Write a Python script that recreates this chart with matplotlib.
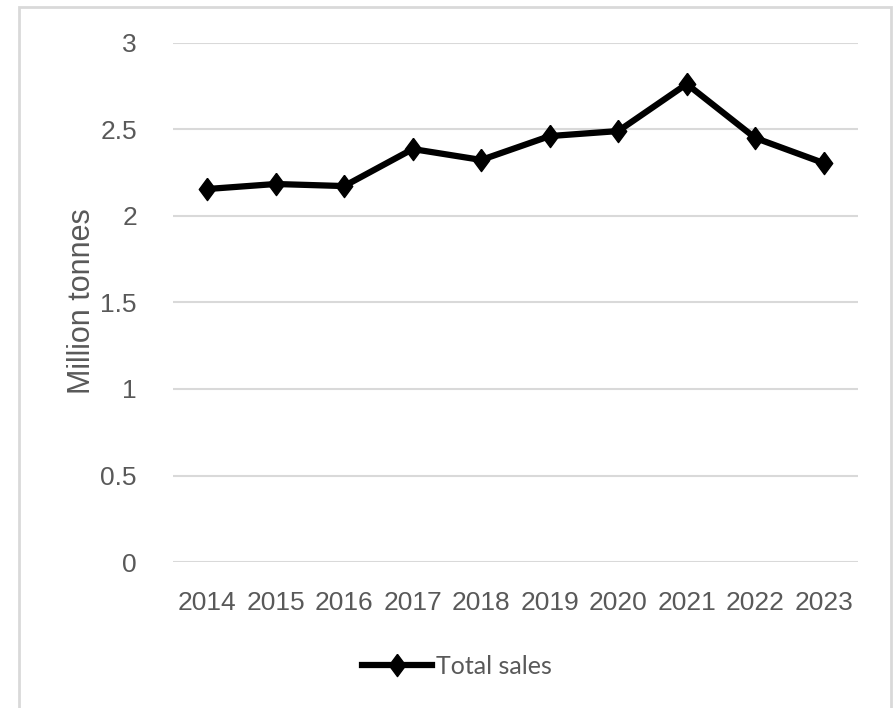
import matplotlib
matplotlib.use("Agg")
import matplotlib.pyplot as plt
from matplotlib.patches import Rectangle

years = ["2014", "2015", "2016", "2017", "2018", "2019", "2020", "2021", "2022", "2023"]
total_sales = [2.156, 2.185, 2.173, 2.387, 2.324, 2.462, 2.491, 2.763, 2.451, 2.306]
y_ticks = [0, 0.5, 1, 1.5, 2, 2.5, 3]
y_tick_labels = ["0", "0.5", "1", "1.5", "2", "2.5", "3"]

GREY_TXT = "#595959"
GRID = "#d9d9d9"

plt.rcParams["font.family"] = ["Liberation Sans", "DejaVu Sans"]

fig = plt.figure(figsize=(8.94, 7.08), dpi=100, facecolor="white")
# outer chart border (bottom runs off the image)
fig.patches.append(Rectangle((19 / 894, -0.05), (891 - 19) / 894, 1.05 - 7 / 708,
                             transform=fig.transFigure, fill=False,
                             edgecolor="#d9d9d9", linewidth=2))

ax = fig.add_axes([173 / 894, 1 - 562 / 708, (858 - 173) / 894, (562 - 43) / 708])

diamond = [(0, 1), (0.74, 0), (0, -1), (-0.74, 0), (0, 1)]
x = list(range(len(years)))
ax.plot(x, total_sales, color="black", linewidth=4.5, marker=diamond,
        markersize=16, markerfacecolor="black", markeredgecolor="black",
        solid_joinstyle="miter", label="Total sales", zorder=3)

ax.set_xlim(-0.5, len(years) - 0.5)
ax.set_ylim(0, 3)
ax.set_xticks(x)
ax.set_xticklabels(years)
ax.set_yticks(y_ticks)
ax.set_yticklabels(y_tick_labels)
ax.tick_params(axis="both", length=0, labelsize=19, labelcolor=GREY_TXT)
ax.tick_params(axis="y", pad=26)
ax.tick_params(axis="x", pad=21)
ax.grid(axis="y", color=GRID, linewidth=1.5, zorder=0)
for sp in ax.spines.values():
    sp.set_visible(False)

ax.set_ylabel("Million tonnes", fontsize=22, color=GREY_TXT, va="center")
ax.yaxis.set_label_coords((82 - 173) / 685, (562 - 301) / 519)

fig.legend(loc="center", bbox_to_anchor=(457 / 894, 1 - 666 / 708), frameon=False,
           prop={"family": "Lato", "size": 18}, labelcolor=GREY_TXT,
           handlelength=2.8, handletextpad=0.15)

fig.savefig("out.png", dpi=100, facecolor="white")
